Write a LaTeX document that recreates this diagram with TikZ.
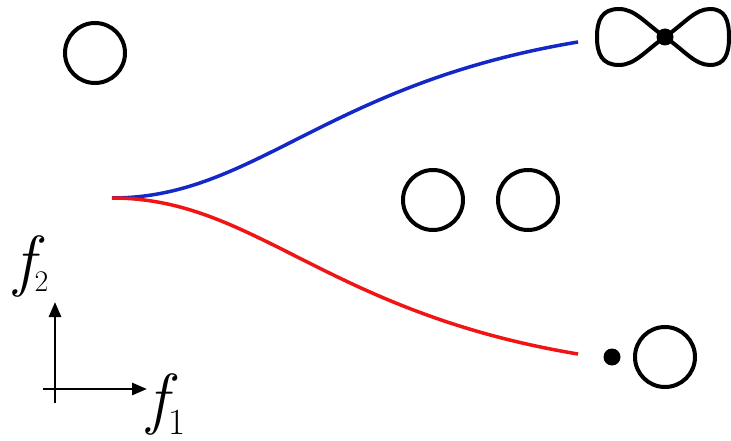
\documentclass[tikz,border=0pt]{standalone}
\usepackage{fontspec}
\usetikzlibrary{arrows.meta}
\definecolor{cblue}{RGB}{20,40,200}
\definecolor{cred}{RGB}{240,20,20}
\tikzset{
  ring/.style={circle,draw=black,line width=4pt,minimum size=60pt,inner sep=0pt},
  blob/.style={circle,fill=black,minimum size=17pt,inner sep=0pt},
  branch/.style={line width=3.5pt},
  axis/.style={line width=2.8pt,-{Triangle[length=15pt,width=12pt]}},
  lbl/.style={inner sep=0pt,anchor=base west}
}
\begin{document}
\begin{tikzpicture}[x=1pt,y=-1pt]
\useasboundingbox (0,0) rectangle (731,441);
% circles
\node[ring] (c0) at (95,53) {};
\node[ring] (c1) at (433,200) {};
\node[ring] (c2) at (528,200) {};
\node[ring] (c3) at (665,357) {};
\node[blob] (d3) at (612,357) {};
% figure eight
\coordinate (x8) at (665,37);
\draw[line width=4pt,line join=round]
  (x8) .. controls (685,23) and (695,9) .. (710,9)
       .. controls (725,9) and (729,20) .. (729,37)
       .. controls (729,54) and (725,65) .. (710,65)
       .. controls (695,65) and (685,51) .. (x8)
       .. controls (645,23) and (635,9) .. (619,9)
       .. controls (602,9) and (597,20) .. (597,37)
       .. controls (597,54) and (602,65) .. (619,65)
       .. controls (635,65) and (645,51) .. (x8) -- cycle;
\node[blob] (d8) at (x8) {};
% branches
\coordinate (o) at (112,198);
\coordinate (be) at (578,42);
\coordinate (re) at (578,354);
\draw[branch,cblue] (o) .. controls (255,198) and (325,84) .. (be);
\draw[branch,cred] (o) .. controls (255,198) and (325,312) .. (re);
% axes
\coordinate (ax0) at (55,403);
\coordinate (ay1) at (55,302);
\coordinate (ax) at (43,389);
\coordinate (ax1) at (147,389);
\draw[axis] (ax0) -- (ay1);
\draw[axis] (ax) -- (ax1);
\node[lbl] (f2) at (14,283) {\fontsize{68}{68}\selectfont\itshape f\hspace{0pt}\raisebox{-8pt}{\upshape\fontsize{30}{30}\selectfont 2}};
\node[lbl] (f1) at (147,421) {\fontsize{68}{68}\selectfont\itshape f\hspace{1pt}\raisebox{-13pt}{\upshape\fontsize{37}{37}\selectfont 1}};
\end{tikzpicture}
\end{document}
